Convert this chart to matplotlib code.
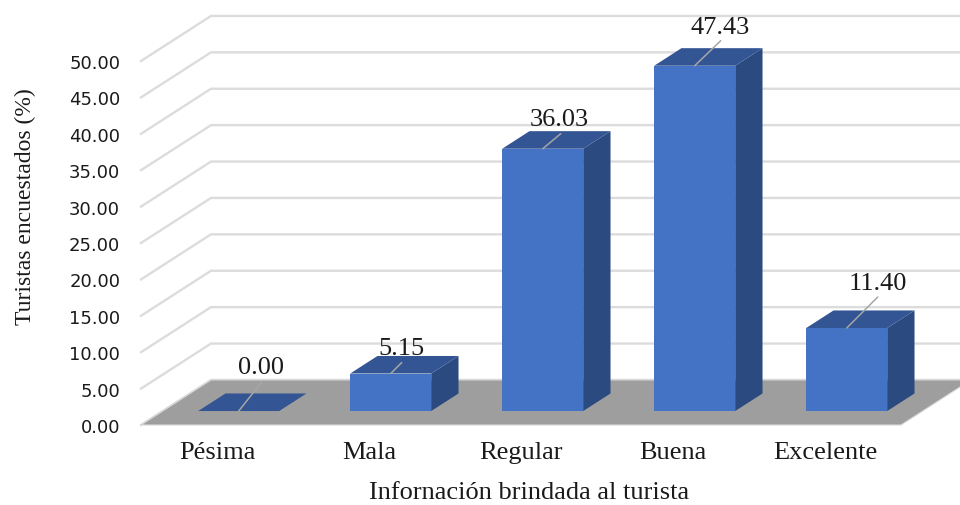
import matplotlib
matplotlib.use("Agg")
import matplotlib.pyplot as plt
from matplotlib.patches import Polygon

categories = ["Pésima", "Mala", "Regular", "Buena", "Excelente"]
values = [0.00, 5.15, 36.03, 47.43, 11.40]
y_ticks = [0, 5, 10, 15, 20, 25, 30, 35, 40, 45, 50]

# Oblique projection: depth 1 is the back wall of the box
DX = 70 / 152
DY = 45 / 7.27
BAR_W = 0.533
D_FRONT, D_BACK = 0.31, 0.70
FRONT, TOP, SIDE = "#4472C4", "#335593", "#2A4A80"

# Leader end offsets and label offsets above each bar, in pixels
leaders = [(23, 29), (11, 11), (18, 15), (26, 25), (31, 31)]
label_offs = [(22, 44), (11, 26), (17, 30), (25, 39), (31, 45)]


def proj(x, v, d):
    return (x + d * DX, v + d * DY)


W, H = 960, 506
fig = plt.figure(figsize=(W / 100, H / 100), dpi=100)
ax = fig.add_axes([141 / W, 1 - 426 / H, 760 / W, 364 / H])
ax.set_xlim(-0.5, 4.5)
ax.set_ylim(0, 50)
ax.patch.set_visible(False)
for s in ax.spines.values():
    s.set_visible(False)

serif = "Liberation Serif"
ax.set_xticks(range(len(categories)), categories, family=serif, fontsize=19, color="#1a1a1a")
ax.set_yticks(y_ticks, [f"{t:.2f}" for t in y_ticks], family="DejaVu Sans", fontsize=13, color="#1a1a1a")
ax.tick_params(axis="both", length=0)
ax.tick_params(axis="x", pad=11.5)
ax.tick_params(axis="y", pad=15)

# Back wall gridlines and their returns along the left wall
xl, xr = -0.5, 4.5
for t in y_ticks:
    ax.plot(*zip(proj(xl, t, 0), proj(xl, t, 1), (5.0, proj(xl, t, 1)[1])),
            color="#DCDCDC", lw=1.7, clip_on=False, zorder=1, solid_joinstyle="miter")

# Floor of the box
ax.add_patch(Polygon([proj(xl, 0, 0), proj(xr, 0, 0), proj(xr, 0, 1), proj(xl, 0, 1)],
                     closed=True, fc="#9E9E9E", ec="#D9D9D9", lw=0.8, clip_on=False, zorder=2))

for i, v in enumerate(values):
    x0, x1 = i - BAR_W / 2, i + BAR_W / 2
    ax.add_patch(Polygon([proj(x1, 0, D_FRONT), proj(x1, 0, D_BACK), proj(x1, v, D_BACK), proj(x1, v, D_FRONT)],
                         closed=True, fc=SIDE, ec="none", clip_on=False, zorder=3))
    ax.add_patch(Polygon([proj(x0, v, D_FRONT), proj(x1, v, D_FRONT), proj(x1, v, D_BACK), proj(x0, v, D_BACK)],
                         closed=True, fc=TOP, ec="none", clip_on=False, zorder=3))
    ax.add_patch(Polygon([proj(x0, 0, D_FRONT), proj(x1, 0, D_FRONT), proj(x1, v, D_FRONT), proj(x0, v, D_FRONT)],
                         closed=True, fc=FRONT, ec="none", clip_on=False, zorder=4))
    anchor = proj(i, v, D_FRONT)
    ax.annotate("", xy=anchor, xytext=leaders[i], textcoords="offset pixels",
                arrowprops=dict(arrowstyle="-", color="#A6A6A6", lw=1.1, shrinkA=0, shrinkB=0),
                annotation_clip=False, zorder=5)
    ax.annotate(f"{v:.2f}", xy=anchor, xytext=label_offs[i], textcoords="offset pixels",
                ha="center", va="center", family=serif, fontsize=19, color="#1a1a1a",
                annotation_clip=False, zorder=6)

fig.text(529 / W, 1 - 493 / H, "Infornación brindada al turista", family=serif, fontsize=19,
         ha="center", va="center", color="#1a1a1a")
fig.text(25 / W, 1 - 207 / H, "Turistas encuestados (%)", family=serif, fontsize=17,
         rotation=90, ha="center", va="center", color="#1a1a1a")

fig.savefig("out.png", dpi=100, facecolor="white")
